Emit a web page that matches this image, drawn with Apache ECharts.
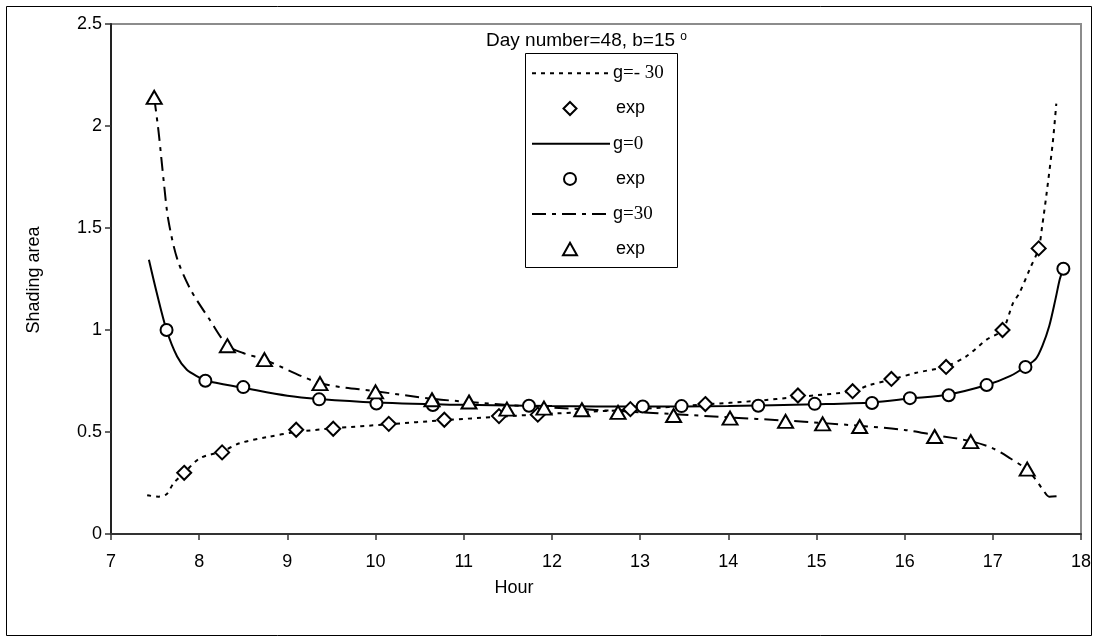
<!DOCTYPE html>
<html>
<head>
<meta charset="utf-8">
<script src="https://cdn.jsdelivr.net/npm/echarts@6.0.0/dist/echarts.min.js"></script>
<style>
html,body{margin:0;padding:0;background:#fff;}
#chart{width:1097px;height:642px;}
</style>
</head>
<body>
<div id="chart"></div>
<script>
// ---- Data ----
const titleText = 'Day number=48, b=15 ';
const xTicks = [7, 18, 1];           // min, max, interval
const yTicks = [0, 2.5, 0.5];        // min, max, interval

// theory curves
const curveGm30Hours = [7.41,7.54,7.63,7.71,7.83,8.01,8.26,8.46,8.77,9.10,9.52,10.15,10.78,11.40,12.0,12.9,13.74,14.3,14.79,15.41,15.6,15.85,16.13,16.47,16.7,16.93,17.11,17.23,17.30,17.42,17.52,17.56,17.61,17.68,17.72];
const curveGm30Vals  = [0.19,0.183,0.195,0.249,0.30,0.372,0.405,0.445,0.475,0.50,0.518,0.538,0.558,0.575,0.59,0.61,0.635,0.652,0.672,0.70,0.73,0.757,0.79,0.822,0.871,0.953,1.0,1.133,1.18,1.30,1.40,1.51,1.67,1.92,2.11];

const curveG0Hours = [7.43,7.52,7.63,7.75,7.86,8.01,8.07,8.5,9.0,9.36,10.0,11.0,12.0,13.0,14.0,15.0,15.63,16.06,16.5,16.93,17.2,17.37,17.49,17.56,17.64,17.71,17.76,17.80];
const curveG0Vals  = [1.344,1.18,1.0,0.87,0.805,0.765,0.751,0.717,0.678,0.662,0.645,0.633,0.627,0.625,0.627,0.636,0.645,0.664,0.684,0.73,0.775,0.82,0.86,0.92,1.02,1.15,1.25,1.30];

const curveG30Hours = [7.49,7.54,7.60,7.65,7.75,7.90,8.12,8.32,8.50,8.74,9.37,10.0,10.64,11.06,11.5,12.0,12.5,13.0,13.4,14.0,14.65,15.07,15.5,16.0,16.34,16.75,17.0,17.2,17.39,17.49,17.57,17.64,17.79];
const curveG30Vals  = [2.14,1.97,1.72,1.54,1.35,1.20,1.05,0.925,0.887,0.855,0.74,0.70,0.663,0.647,0.632,0.62,0.608,0.597,0.587,0.572,0.556,0.544,0.53,0.51,0.485,0.455,0.42,0.37,0.315,0.265,0.216,0.183,0.187];

// experimental points
const expGm30Hours = [7.83,8.26,9.10,9.52,10.15,10.78,11.40,11.84,12.89,13.74,14.79,15.41,15.85,16.47,17.11,17.52];
const expGm30Vals  = [0.30,0.40,0.511,0.516,0.54,0.56,0.578,0.585,0.612,0.637,0.679,0.70,0.76,0.819,1.0,1.40];

const expG0Hours = [7.63,8.07,8.50,9.36,10.01,10.65,11.74,13.03,13.47,14.34,14.98,15.63,16.06,16.50,16.93,17.37,17.80];
const expG0Vals  = [1.0,0.751,0.72,0.66,0.64,0.632,0.629,0.625,0.627,0.629,0.638,0.642,0.666,0.68,0.73,0.819,1.30];

const expG30Hours = [7.49,8.32,8.74,9.37,10.0,10.64,11.06,11.49,11.91,12.34,12.75,13.38,14.02,14.65,15.07,15.49,16.34,16.75,17.39];
const expG30Vals  = [2.14,0.923,0.855,0.737,0.697,0.658,0.647,0.612,0.617,0.609,0.596,0.581,0.568,0.552,0.540,0.527,0.478,0.453,0.318];

const seriesNames = ['g=- 30','exp','g=0','exp ','g=30','exp  '];
const legendLabels = ['g=- 30','exp','g=0','exp','g=30','exp'];

// ---- build ----
const zip = (a, b) => a.map((v, i) => [v, b[i]]);
const SANS = '"Liberation Sans", Arial, sans-serif';
const SERIF = '"Liberation Serif", "Times New Roman", serif';

const dashGm30 = [4, 5];
const dashG30 = [14, 6, 4, 6];

function lineSeries(name, data, dash) {
  return {
    name, type: 'line', data, symbol: 'none', smooth: 0.3, z: 2,
    lineStyle: { color: '#000', width: 2, type: dash },
    itemStyle: { color: '#000' },
    animation: false
  };
}
function scatterSeries(name, data, symbol, size) {
  return {
    name, type: 'scatter', data, symbol, symbolSize: size, z: 3,
    itemStyle: { color: '#fff', borderColor: '#000', borderWidth: 2, opacity: 1 },
    animation: false
  };
}

// ---- hand-built legend (box, samples, labels) ----
const LG = { x: 525, y: 53, w: 152, h: 214, row0: 73.3, rowStep: 35.2, sx0: 532, sx1: 610, mx: 570, tx: 613 };
const legendGraphics = [];
legendGraphics.push({ type: 'rect', silent: true, z: 50,
  shape: { x: LG.x + 0.5, y: LG.y + 0.5, width: LG.w, height: LG.h },
  style: { fill: '#fff', stroke: '#000', lineWidth: 1 } });
const legendKinds = [
  { kind: 'line', dash: dashGm30 }, { kind: 'diamond' },
  { kind: 'line', dash: null }, { kind: 'circle' },
  { kind: 'line', dash: dashG30 }, { kind: 'triangle' }
];
legendKinds.forEach((k, i) => {
  const cy = LG.row0 + i * LG.rowStep;
  const mk = { fill: '#fff', stroke: '#000', lineWidth: 2 };
  if (k.kind === 'line') {
    legendGraphics.push({ type: 'line', silent: true, z: 51,
      shape: { x1: LG.sx0, y1: cy, x2: LG.sx1, y2: cy },
      style: { stroke: '#000', lineWidth: 2, lineDash: k.dash || null } });
  } else if (k.kind === 'diamond') {
    legendGraphics.push({ type: 'polygon', silent: true, z: 51,
      shape: { points: [[LG.mx, cy - 6.5], [LG.mx + 6.5, cy], [LG.mx, cy + 6.5], [LG.mx - 6.5, cy]] }, style: mk });
  } else if (k.kind === 'circle') {
    legendGraphics.push({ type: 'circle', silent: true, z: 51,
      shape: { cx: LG.mx, cy: cy, r: 6 }, style: mk });
  } else {
    legendGraphics.push({ type: 'polygon', silent: true, z: 51,
      shape: { points: [[LG.mx, cy - 6.5], [LG.mx + 7, cy + 6], [LG.mx - 7, cy + 6]] }, style: mk });
  }
  const lab = legendLabels[i];
  const isExp = lab === 'exp';
  legendGraphics.push({ type: 'text', silent: true, z: 52,
    style: {
      x: isExp ? LG.tx + 3 : LG.tx, y: cy, verticalAlign: 'middle', align: 'left',
      text: isExp ? '{s|exp}' : '{g|g}{t|' + lab.slice(1) + '}',
      rich: {
        s: { fontFamily: SANS, fontSize: 18, fill: '#000' },
        g: { fontFamily: SANS, fontSize: 18, fill: '#000' },
        t: { fontFamily: SERIF, fontSize: 19, fill: '#000' }
      }
    } });
});

const chart = echarts.init(document.getElementById('chart'), null, { renderer: 'canvas' });
chart.setOption({
  backgroundColor: '#fff',
  animation: false,
  title: {
    text: '{a|' + titleText + '}{b|o}',
    left: 486, top: 31, padding: 0,
    textStyle: {
      fontWeight: 'normal',
      rich: {
        a: { fontFamily: SANS, fontSize: 19, fontWeight: 'normal', color: '#000', lineHeight: 20 },
        b: { fontFamily: SANS, fontSize: 12, fontWeight: 'normal', color: '#000', verticalAlign: 'top', lineHeight: 20, padding: [0,0,7,0] }
      }
    }
  },
  grid: {
    left: 111, right: 16, top: 24, bottom: 108,
    show: true, borderColor: '#8c8c8c', borderWidth: 2, containLabel: false
  },
  xAxis: {
    type: 'value', min: xTicks[0], max: xTicks[1], interval: xTicks[2],
    splitLine: { show: false },
    axisLine: { show: true, onZero: false, lineStyle: { color: '#333', width: 2 } },
    axisTick: { show: true, inside: false, length: 6, lineStyle: { color: '#333', width: 1.5 } },
    axisLabel: { fontFamily: SANS, fontSize: 18, color: '#000', margin: 19 }
  },
  yAxis: {
    type: 'value', min: yTicks[0], max: yTicks[1], interval: yTicks[2],
    splitLine: { show: false },
    axisLine: { show: true, onZero: false, lineStyle: { color: '#222', width: 2 } },
    axisTick: { show: true, inside: false, length: 6, lineStyle: { color: '#333', width: 1.5 } },
    axisLabel: { fontFamily: SANS, fontSize: 18, color: '#000', margin: 9 }
  },
  graphic: [
    { type: 'rect', silent: true, z: -10,
      shape: { x: 6.5, y: 6.5, width: 1085, height: 629 },
      style: { fill: 'none', stroke: '#000', lineWidth: 1 } },
    { type: 'text', silent: true,
      style: { text: 'Hour', x: 514, y: 588, align: 'center', verticalAlign: 'middle',
               font: '18px ' + SANS, fill: '#000' } },
    { type: 'text', silent: true, x: 34, y: 280, rotation: Math.PI / 2,
      style: { text: 'Shading area', x: 0, y: 0, align: 'center', verticalAlign: 'middle',
               font: '18px ' + SANS, fill: '#000' } }
  ].concat(legendGraphics),
  series: [
    lineSeries(seriesNames[0], zip(curveGm30Hours, curveGm30Vals), dashGm30),
    scatterSeries(seriesNames[1], zip(expGm30Hours, expGm30Vals), 'diamond', 14),
    lineSeries(seriesNames[2], zip(curveG0Hours, curveG0Vals), 'solid'),
    scatterSeries(seriesNames[3], zip(expG0Hours, expG0Vals), 'circle', 12),
    lineSeries(seriesNames[4], zip(curveG30Hours, curveG30Vals), dashG30),
    scatterSeries(seriesNames[5], zip(expG30Hours, expG30Vals), 'triangle', [15, 13])
  ]
});
</script>
</body>
</html>
